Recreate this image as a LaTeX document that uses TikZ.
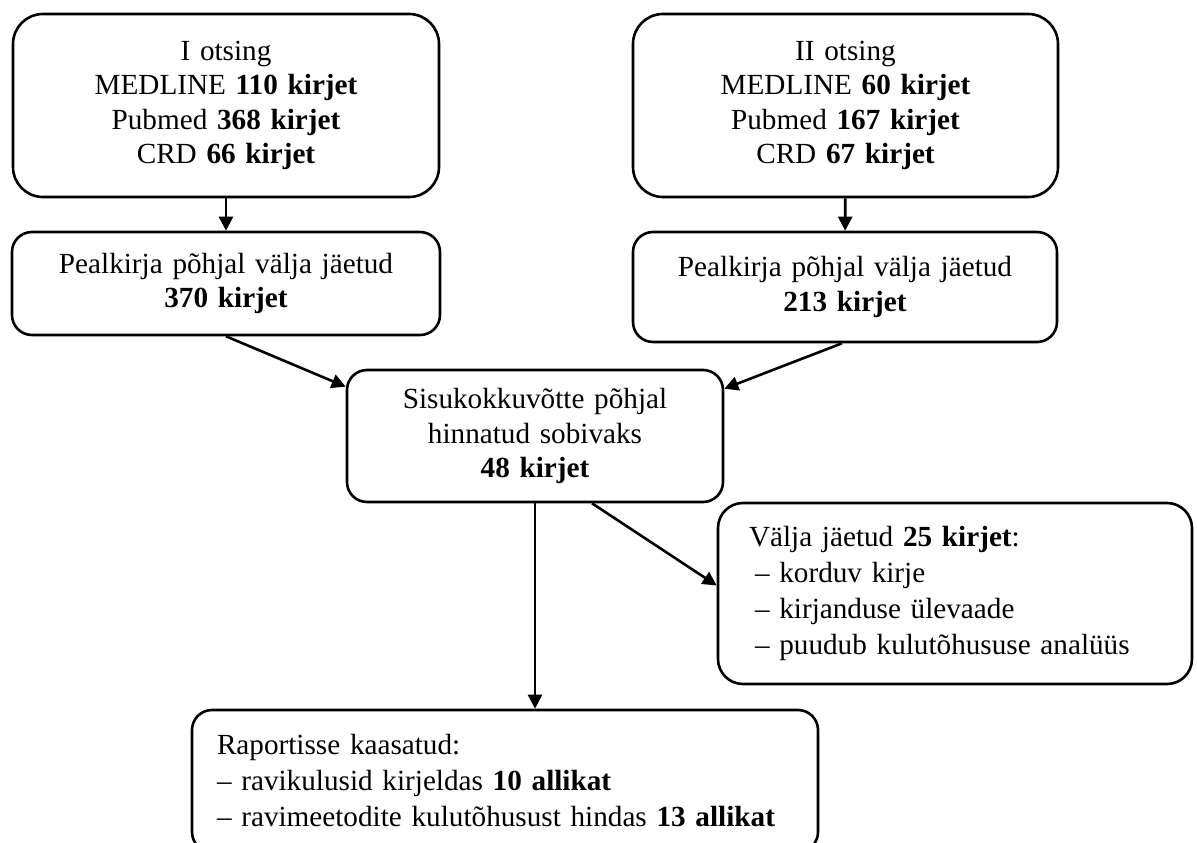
\documentclass[tikz,border=0pt]{standalone}
\usepackage{fontspec}
\setmainfont{Liberation Serif}
\usetikzlibrary{arrows.meta}

\begin{document}
\begin{tikzpicture}[x=1pt, y=-1pt, line width=2.6pt,
  kast/.style={draw, inner xsep=10pt, inner ysep=0pt, rounded corners=20pt,
    font=\fontsize{29.2}{34.5}\selectfont},
  nool/.style={-{Triangle[length=14pt, width=14pt]}}]
  \useasboundingbox (0,0) rectangle (1197,843);

  \node[kast, rounded corners=30pt, align=center, text width=406pt, minimum height=183pt] (otsing1) at (226,105.5)
    {I otsing\\ MEDLINE \textbf{110 kirjet}\\ Pubmed \textbf{368 kirjet}\\ CRD \textbf{66 kirjet}};
  \node[kast, rounded corners=30pt, align=center, text width=405pt, minimum height=183pt] (otsing2) at (845.5,105.5)
    {II otsing\\ MEDLINE \textbf{60 kirjet}\\ Pubmed \textbf{167 kirjet}\\ CRD \textbf{67 kirjet}};
  \node[kast, align=center, text width=408pt, minimum height=103pt] (pealk1) at (226,283.5)
    {Pealkirja põhjal välja jäetud\\ \textbf{370 kirjet}};
  \node[kast, align=center, text width=404pt, minimum height=110pt] (pealk2) at (845,287)
    {Pealkirja põhjal välja jäetud\\ \textbf{213 kirjet}};
  \node[kast, align=center, text width=356pt, minimum height=132pt] (sisu) at (535,436)
    {Sisukokkuvõtte põhjal\\ hinnatud sobivaks\\ \textbf{48 kirjet}};
  \node[kast, rounded corners=25pt, align=left, inner xsep=31pt, text width=412pt, minimum height=181pt,
    font=\fontsize{29.2}{36}\selectfont] (valja) at (955,593.5)
    {Välja jäetud \textbf{25 kirjet}:\\ \hspace*{6pt}– korduv kirje\\ \hspace*{6pt}– kirjanduse ülevaade\\ \hspace*{6pt}– puudub kulutõhususe analüüs};
  \node[kast, align=left, inner xsep=25pt, text width=576pt, minimum height=142pt,
    font=\fontsize{29.2}{36}\selectfont] (raport) at (505,781)
    {Raportisse kaasatud:\\ – ravikulusid kirjeldas \textbf{10 allikat}\\ – ravimeetodite kulutõhusust hindas \textbf{13 allikat}};

  \draw[nool] (otsing1) -- (pealk1);
  \draw[nool] (otsing2) -- (pealk2);
  \draw[nool] (pealk1.south) -- ([yshift=-18pt]sisu.north west);
  \draw[nool] ([xshift=-3pt]pealk2.south) -- ([yshift=-20pt]sisu.north east);
  \draw[nool] (sisu.south) -- (sisu.south |- raport.north);
  \draw[nool] ([xshift=57pt]sisu.south) -- ([yshift=8pt]valja.west);
\end{tikzpicture}
\end{document}
